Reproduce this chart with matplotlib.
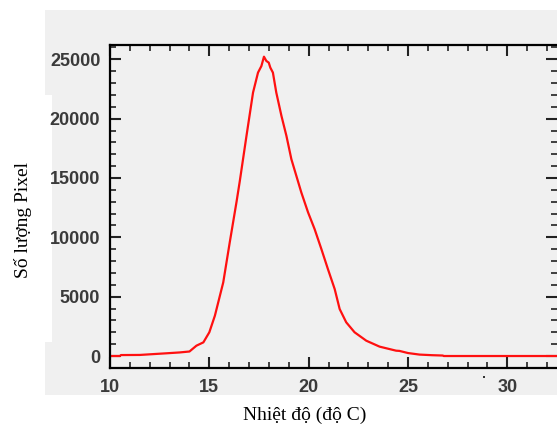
import matplotlib
matplotlib.use("Agg")
import matplotlib.pyplot as plt
from matplotlib.patches import Rectangle
from matplotlib.ticker import MultipleLocator

# Temperature (deg C) and pixel counts
temp = [10.0, 10.5, 10.55, 11.5, 12.85, 13.5, 14.0, 14.35, 14.7, 15.0, 15.28,
        15.7, 16.03, 16.37, 16.53, 16.87, 17.2, 17.45, 17.62, 17.75, 17.87,
        17.99, 18.07, 18.2, 18.37, 18.63, 18.88, 19.13, 19.38, 19.63, 19.97,
        20.3, 20.64, 20.97, 21.31, 21.56, 21.89, 22.31, 22.9, 23.57, 24.4,
        24.57, 25.0, 25.58, 26.2, 26.75, 26.8, 28.0, 30.0, 32.5]
count = [0, 0, 80, 90, 230, 300, 380, 870, 1150, 2000, 3400,
         6200, 9600, 13000, 14700, 18550, 22200, 23880, 24430, 25220, 24860,
         24720, 24300, 23880, 22200, 20230, 18550, 16580, 15180, 13780, 12100,
         10690, 9010, 7320, 5640, 3960, 2840, 2000, 1290, 790, 450,
         430, 250, 120, 70, 40, 0, 0, 0, 0]

xticks = [10, 15, 20, 25, 30]
yticks = [0, 5000, 10000, 15000, 20000, 25000]
xlabel = "Nhiệt độ (độ C)"
ylabel = "Số lượng Pixel"

W, H = 557, 424
fig = plt.figure(figsize=(W / 100, H / 100), dpi=100)
fig.patch.set_facecolor("white")

gray = "#f0f0f0"
# gray panel behind the chart
fig.patches.append(Rectangle((45 / W, 1 - 395 / H), 1 - 45 / W, (395 - 10) / H,
                             transform=fig.transFigure, facecolor=gray,
                             edgecolor="none", zorder=-3))
fig.patches.append(Rectangle((0, 1 - 342 / H), 52 / W, (342 - 95) / H,
                             transform=fig.transFigure, facecolor="white",
                             edgecolor="none", zorder=-2))
# small stray dot near the "30" label
fig.patches.append(Rectangle((483 / W, 1 - 378 / H), 2 / W, 2 / H,
                             transform=fig.transFigure, facecolor="#333333",
                             edgecolor="none", zorder=-1))

ax = fig.add_axes([110 / W, 1 - 368 / H, (557 - 110) / W, (368 - 45) / H])
ax.set_facecolor(gray)
ax.plot(temp, count, color="#ff1010", lw=1.6)

ax.set_xlim(10, 32.5)
ax.set_ylim(-1010, 26205)
ax.set_xticks(xticks)
ax.set_yticks(yticks)
ax.xaxis.set_minor_locator(MultipleLocator(1))
ax.yaxis.set_minor_locator(MultipleLocator(1000))

tick_font = dict(family="Liberation Sans", weight="bold", size=13)
ax.set_xticklabels([str(v) for v in xticks], fontdict=tick_font, color="#3a3a3a")
ax.set_yticklabels([str(v) for v in yticks], fontdict=tick_font, color="#3a3a3a")

ax.tick_params(which="both", direction="in", top=True, right=True,
               color="#222222")
ax.tick_params(which="major", length=8, width=1.5)
ax.tick_params(which="minor", length=4.5, width=1.2)
ax.tick_params(axis="y", which="major", pad=7)
ax.tick_params(axis="x", which="major", pad=8)

for side in ["left", "bottom", "top"]:
    ax.spines[side].set_color("black")
    ax.spines[side].set_linewidth(1.6)
ax.spines["right"].set_visible(False)

fig.text(305 / W, 1 - 415 / H, xlabel, family="Liberation Serif", size=14,
         ha="center", va="center")
fig.text(23 / W, 1 - 220 / H, ylabel, family="Liberation Serif", size=14,
         ha="center", va="center", rotation=90)

fig.savefig("out.png", dpi=100, facecolor="white")
